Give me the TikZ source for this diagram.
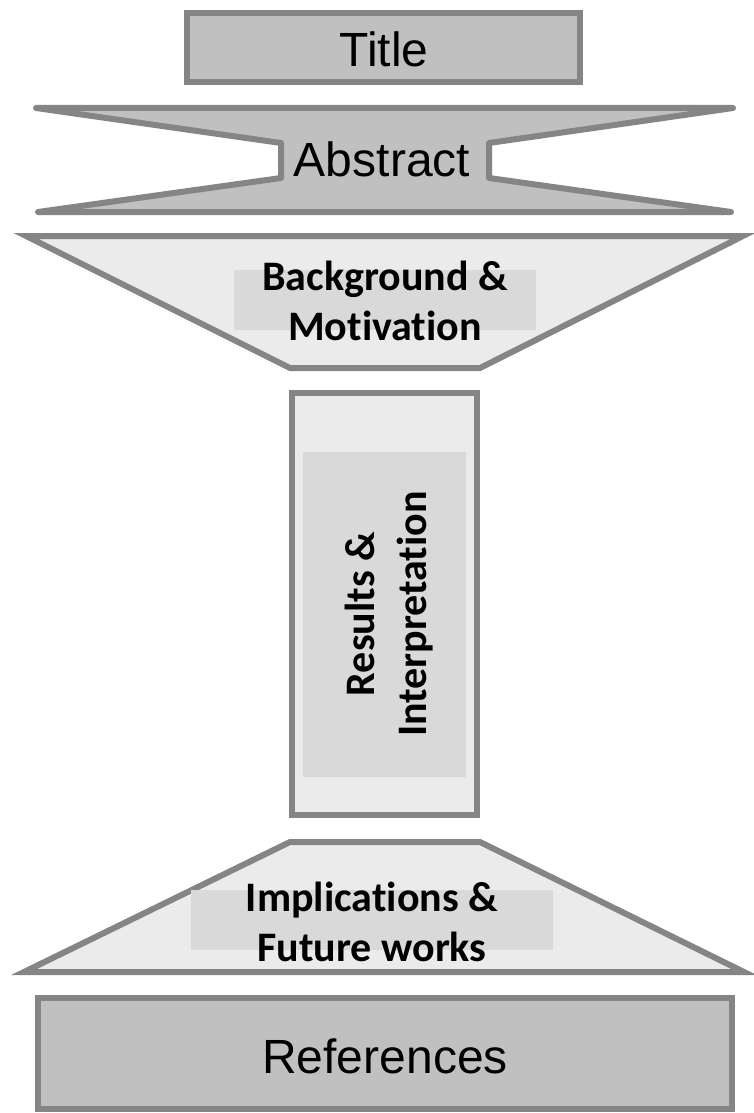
\documentclass[tikz,border=0pt]{standalone}
\usepackage{fontspec}
\setmainfont{Liberation Sans}
\newfontfamily\calibfont{Carlito}[Ligatures={NoCommon,NoContextual},RawFeature={-liga;-clig;-dlig}]
\definecolor{edgegray}{HTML}{858585}
\definecolor{darkfill}{HTML}{C0C0C0}
\definecolor{lightfill}{HTML}{EBEBEB}
\definecolor{innerfill}{HTML}{D9D9D9}
\begin{document}
\begin{tikzpicture}[x=1pt,y=-1pt,
  shapedark/.style={draw=edgegray,fill=darkfill,line width=6pt},
  shapelight/.style={draw=edgegray,fill=lightfill,line width=6pt},
  plainlabel/.style={font=\fontsize{48}{56}\selectfont,inner sep=0pt,anchor=base},
  boldlabel/.style={font=\calibfont\bfseries\fontsize{42}{50}\selectfont,align=center,inner sep=0pt}]
\useasboundingbox[fill=white] (0,0) rectangle (754,1113);
% Title
\draw[shapedark] (187,13) rectangle (580,82);
\node[plainlabel] (title) at (384,67) {Title};
% Abstract (hourglass)
\draw[shapedark,line join=round] (36,108) -- (733,108) -- (489,143) -- (489,178) -- (731,212) -- (38,212) -- (281,178) -- (281,143) -- cycle;
\node[plainlabel] (abstract) at (382,176) {Abstract};
% Background & Motivation (funnel)
\draw[shapelight] (26,236) -- (743,236) -- (480,368) -- (290,368) -- cycle;
\fill[innerfill] (234,270) rectangle (536,330);
\node[boldlabel] (background) at (385,301) {Background \&\\Motivation};
% Results & Interpretation (column)
\draw[shapelight] (292,393) rectangle (477,815);
\fill[innerfill] (303,452) rectangle (466,777);
\node[boldlabel,rotate=90,font=\calibfont\bfseries\fontsize{42}{52}\selectfont] (results) at (389,614) {Results \&\\Interpretation};
% Implications & Future works (pyramid)
\draw[shapelight] (290,842) -- (480,842) -- (744,972) -- (24,972) -- cycle;
\fill[innerfill] (191,890) rectangle (553,950);
\node[boldlabel] (implications) at (372,922) {Implications \&\\Future works};
% References
\draw[shapedark] (38,998) rectangle (732,1109);
\node[plainlabel] (references) at (385,1073) {References};
\end{tikzpicture}
\end{document}
